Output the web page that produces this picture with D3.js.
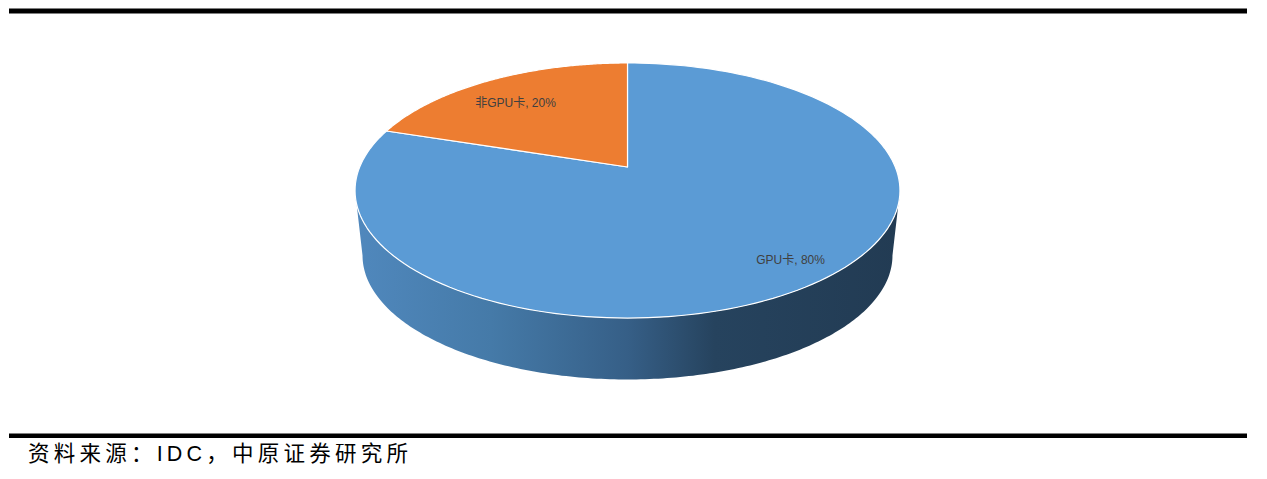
<!DOCTYPE html>
<html>
<head>
<meta charset="utf-8">
<script src="https://cdn.jsdelivr.net/npm/d3@7"></script>
<style>
  html, body { margin: 0; padding: 0; background: #fff; }
  svg { display: block; }
</style>
</head>
<body>
<svg id="chart" width="1267" height="479"></svg>
<script>
// ---- data ----
const categories = ["GPU卡", "非GPU卡"];
const values = [80, 20];
const percentLabels = ["80%", "20%"];
const colors = ["#5b9bd5", "#ed7d31"];
const sourceText = "资料来源：IDC，中原证券研究所";

// ---- layout / projection ----
const svg = d3.select("#chart");
const cx = 627.5, cy = 167;          // apex (pie centre) on screen
const A = 267.8, B = 123.2, k = 0.1843; // perspective ellipse params
const depth = 65.6, sBot = 0.9725;    // thickness and bottom scaling

function projTop(a, r) {
  const u = r * Math.sin(a), v = -r * Math.cos(a);
  const d = 1 - k * v;
  return [cx + A * u / d, cy + B * v / d];
}
function projBot(a, r) {
  const p = projTop(a, r);
  return [cx + sBot * (p[0] - cx), cy + depth + sBot * (p[1] - cy)];
}
function sample(a0, a1, n) {
  const out = [];
  for (let i = 0; i <= n; i++) out.push(a0 + (a1 - a0) * i / n);
  return out;
}

const data = categories.map((c, i) => ({ name: c, value: values[i], pct: percentLabels[i], color: colors[i] }));
const pie = d3.pie().sort(null).value(d => d.value);
const arcs = pie(data);
const line = d3.line();

// bars
svg.append("rect").attr("x", 9).attr("y", 8.5).attr("width", 1238).attr("height", 5).attr("fill", "#000");
svg.append("rect").attr("x", 9).attr("y", 433.5).attr("width", 1238).attr("height", 4.5).attr("fill", "#000");

// side gradient
const defs = svg.append("defs");
const grad = defs.append("linearGradient").attr("id", "sideGrad")
  .attr("gradientUnits", "userSpaceOnUse").attr("x1", 355).attr("x2", 900).attr("y1", 0).attr("y2", 0);
[[0, "#5088bd"], [0.25, "#457aa8"], [0.5, "#365f87"], [0.66, "#26435e"], [1, "#223b53"]]
  .forEach(([o, c]) => grad.append("stop").attr("offset", o).attr("stop-color", c));

// side (front half of the wall)
const aR = Math.acos(-k);
const frontAngles = sample(aR, 2 * Math.PI - aR, 200);
const sidePts = frontAngles.map(a => projTop(a, 1))
  .concat(frontAngles.slice().reverse().map(a => projBot(a, 1)));
svg.append("path").attr("d", line(sidePts) + "Z").attr("fill", "url(#sideGrad)");

// top surface slices
const g = svg.append("g");
arcs.forEach(d => {
  const angs = sample(d.startAngle, d.endAngle, 160);
  const pts = [[cx, cy]].concat(angs.map(a => projTop(a, 1)));
  g.append("path").attr("d", line(pts) + "Z")
    .attr("fill", d.data.color)
    .attr("stroke", "#ffffff").attr("stroke-width", 1.2).attr("stroke-linejoin", "round");
});

// labels
const labelR = [0.85, 0.74];
const labelShift = [-3 * Math.PI / 180, -2.7 * Math.PI / 180];
arcs.forEach((d, i) => {
  const mid = (d.startAngle + d.endAngle) / 2 + labelShift[i];
  const p = projTop(mid, labelR[i]);
  svg.append("text")
    .attr("x", p[0]).attr("y", p[1])
    .attr("text-anchor", "middle").attr("dominant-baseline", "central")
    .attr("font-family", "'Liberation Sans', Arial, 'Noto Sans CJK SC', sans-serif")
    .attr("font-size", 12).attr("fill", "#404040")
    .text(d.data.name + ", " + d.data.pct);
});

// source footer
svg.append("text")
  .attr("x", 28).attr("y", 461)
  .attr("font-family", "'Liberation Sans', Arial, 'Noto Sans CJK SC', sans-serif")
  .attr("font-size", 21.5).attr("fill", "#000")
  .attr("textLength", 380).attr("lengthAdjust", "spacing")
  .text(sourceText);
</script>
</body>
</html>
